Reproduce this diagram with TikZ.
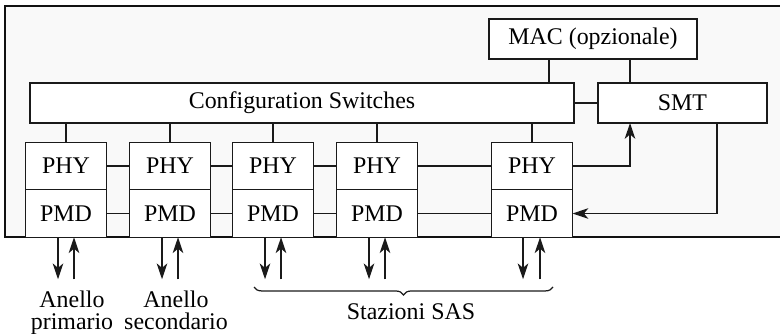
\documentclass[tikz,border=0pt]{standalone}
\usepackage{fontspec}
\setmainfont{Liberation Serif}
\newfontfamily\fddifont{Liberation Serif}
\usepackage{xcolor}
\usepackage{tikz}
\usetikzlibrary{positioning, arrows.meta, calc, decorations.pathreplacing}
\definecolor{fddi-line}{HTML}{1A1A1A}
\definecolor{fddi-frame}{HTML}{111111}
\definecolor{fddi-bg}{HTML}{F9F9F9}

\begin{document}
\begin{tikzpicture}[
    blk/.style={draw=fddi-line, fill=white, line width=0.8pt, outer sep=0pt,
                minimum height=0.95cm, font=\fddifont\fontsize{13.6}{12.5}\selectfont},
    phybox/.style={blk, minimum width=1.62cm},
    wire/.style={draw=fddi-line, line width=0.8pt},
    tip/.style={-{Stealth[length=9pt, width=6pt, inset=2.5pt]}},
    lbl/.style={inner sep=0pt, align=center, font=\fddifont\fontsize{13.6}{12.5}\selectfont},
]
    \useasboundingbox (0,0) rectangle (15.6,6.66);
    % station frame, open on the right
    \fill[fddi-bg] (0.1,1.92) rectangle (15.6,6.546);
    \draw[fddi-frame, line width=1.1pt] (15.6,6.546) -- (0.1,6.546) -- (0.1,1.92) -- (15.6,1.92);

    \node[blk, minimum width=10.88cm, minimum height=0.8cm] (cs) at (6.04,4.6) {Configuration Switches};
    \node[blk, minimum width=3.38cm, minimum height=0.8cm] (smt) at (13.65,4.6) {SMT};
    \node[blk, minimum width=4.16cm, minimum height=0.8cm] (mac) at (11.86,5.88) {MAC (opzionale)};

    \node[phybox] (phy1) at (1.32,3.34) {PHY};
    \node[phybox] (phy2) at (3.40,3.34) {PHY};
    \node[phybox] (phy3) at (5.46,3.34) {PHY};
    \node[phybox] (phy4) at (7.54,3.34) {PHY};
    \node[phybox] (phy5) at (10.64,3.34) {PHY};
    \node[phybox, below=0pt of phy1] (pmd1) {PMD};
    \node[phybox, below=0pt of phy2] (pmd2) {PMD};
    \node[phybox, below=0pt of phy3] (pmd3) {PMD};
    \node[phybox, below=0pt of phy4] (pmd4) {PMD};
    \node[phybox, below=0pt of phy5] (pmd5) {PMD};

    % links to the switches and along the ring
    \draw[wire] (phy1.north) -- (phy1.north |- cs.south);
    \draw[wire] (phy2.north) -- (phy2.north |- cs.south);
    \draw[wire] (phy3.north) -- (phy3.north |- cs.south);
    \draw[wire] (phy4.north) -- (phy4.north |- cs.south);
    \draw[wire] (phy5.north) -- (phy5.north |- cs.south);
    \draw[wire] (phy1.east) -- (phy2.west);
    \draw[wire] (phy2.east) -- (phy3.west);
    \draw[wire] (phy3.east) -- (phy4.west);
    \draw[wire] (phy4.east) -- (phy5.west);
    \draw[wire] (pmd1.east) -- (pmd2.west);
    \draw[wire] (pmd2.east) -- (pmd3.west);
    \draw[wire] (pmd3.east) -- (pmd4.west);
    \draw[wire] (pmd4.east) -- (pmd5.west);

    \draw[wire] ([xshift=-0.88cm]mac.south) -- ([xshift=-0.88cm]mac.south |- cs.north);
    \draw[wire] ([xshift=0.74cm]mac.south) -- ([xshift=0.74cm]mac.south |- smt.north);
    \draw[wire] (cs.east) -- (smt.west);
    \draw[wire, tip] (phy5.east) -| ([xshift=-1.05cm]smt.south);
    \draw[wire, tip] ([xshift=0.69cm]smt.south) |- (pmd5.east);

    % fibres leaving each PMD
    \draw[wire, tip] ([xshift=-0.16cm]pmd1.south) -- ++(0,-0.84);
    \draw[wire, tip] ([xshift=0.16cm]pmd1.south) ++(0,-0.84) -- ([xshift=0.16cm]pmd1.south);
    \draw[wire, tip] ([xshift=-0.16cm]pmd2.south) -- ++(0,-0.84);
    \draw[wire, tip] ([xshift=0.16cm]pmd2.south) ++(0,-0.84) -- ([xshift=0.16cm]pmd2.south);
    \draw[wire, tip] ([xshift=-0.16cm]pmd3.south) -- ++(0,-0.84);
    \draw[wire, tip] ([xshift=0.16cm]pmd3.south) ++(0,-0.84) -- ([xshift=0.16cm]pmd3.south);
    \draw[wire, tip] ([xshift=-0.16cm]pmd4.south) -- ++(0,-0.84);
    \draw[wire, tip] ([xshift=0.16cm]pmd4.south) ++(0,-0.84) -- ([xshift=0.16cm]pmd4.south);
    \draw[wire, tip] ([xshift=-0.18cm]pmd5.south) -- ++(0,-0.84);
    \draw[wire, tip] ([xshift=0.16cm]pmd5.south) ++(0,-0.84) -- ([xshift=0.16cm]pmd5.south);

    \node[lbl, anchor=north] (prim) at (1.44,0.84) {Anello\\primario};
    \node[lbl, anchor=north] (sec) at (3.52,0.84) {Anello\\secondario};
    \draw[decorate, decoration={brace, amplitude=4.5pt, mirror}, fddi-line, line width=0.7pt]
        (5.08,0.92) -- (11.06,0.92);
    \node[lbl, anchor=north] (sas) at (8.22,0.6) {Stazioni SAS};
\end{tikzpicture}
\end{document}
